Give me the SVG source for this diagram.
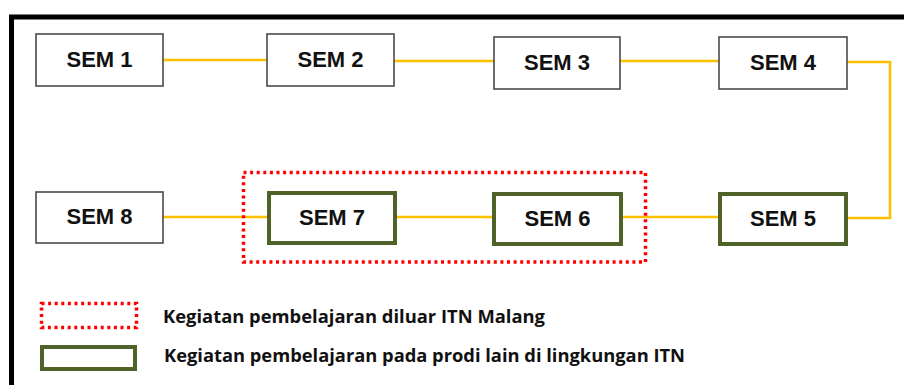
<svg xmlns="http://www.w3.org/2000/svg" width="904" height="385" viewBox="0 0 904 385">
<style>
.box{fill:#fff;stroke:#4a4a4a;stroke-width:1.6}
.gbox{fill:#fff;stroke:#4f6228;stroke-width:4}
.lbl{font-family:"Liberation Sans",Arial,sans-serif;font-weight:bold;font-size:22px;fill:#111;text-anchor:middle}
.con{fill:none;stroke:#FFC000;stroke-width:2.6}
.dot{fill:none;stroke:#FF0000;stroke-width:3.5;stroke-dasharray:3 3.6}
.leg{font-family:"Open Sans","Liberation Sans",sans-serif;font-weight:bold;font-size:17.5px;fill:#111}
</style>
<rect width="904" height="385" fill="#fff"/>
<path d="M11.5,400 V17 H910" fill="none" stroke="#000" stroke-width="5"/>
<g id="connectors">
<path class="con" d="M163,60 H267"/>
<path class="con" d="M394,61 H494"/>
<path class="con" d="M620,61 H719"/>
<path class="con" d="M847,62 H890 V218 H848"/>
<path class="con" d="M623,217 H718"/>
<path class="con" d="M397,217 H492"/>
<path class="con" d="M163,217 H267"/>
</g>
<g id="group-outside"><rect class="dot" x="243.5" y="172.5" width="402" height="89.5"/></g>
<g id="sem1"><rect class="box" x="36" y="34" width="127" height="52"/><text class="lbl" x="99.5" y="67">SEM 1</text></g>
<g id="sem2"><rect class="box" x="267" y="34" width="127" height="52"/><text class="lbl" x="330.5" y="67">SEM 2</text></g>
<g id="sem3"><rect class="box" x="494" y="37" width="126" height="52"/><text class="lbl" x="557" y="70">SEM 3</text></g>
<g id="sem4"><rect class="box" x="719" y="37" width="128" height="52"/><text class="lbl" x="783" y="70">SEM 4</text></g>
<g id="sem5"><rect class="gbox" x="720" y="194" width="126" height="50"/><text class="lbl" x="783" y="226">SEM 5</text></g>
<g id="sem6"><rect class="gbox" x="494" y="194" width="127" height="50"/><text class="lbl" x="557.5" y="226">SEM 6</text></g>
<g id="sem7"><rect class="gbox" x="269" y="193" width="126" height="50"/><text class="lbl" x="332" y="225">SEM 7</text></g>
<g id="sem8"><rect class="box" x="36" y="192" width="127" height="51"/><text class="lbl" x="99.5" y="224">SEM 8</text></g>
<g id="legend">
<rect class="dot" x="41.5" y="303.5" width="95" height="24"/>
<text class="leg" x="163" y="323" textLength="382" lengthAdjust="spacingAndGlyphs">Kegiatan pembelajaran diluar ITN Malang</text>
<rect class="gbox" x="42" y="347" width="93" height="22"/>
<text class="leg" x="164" y="362" textLength="521" lengthAdjust="spacingAndGlyphs">Kegiatan pembelajaran pada prodi lain di lingkungan ITN</text>
</g>
</svg>
